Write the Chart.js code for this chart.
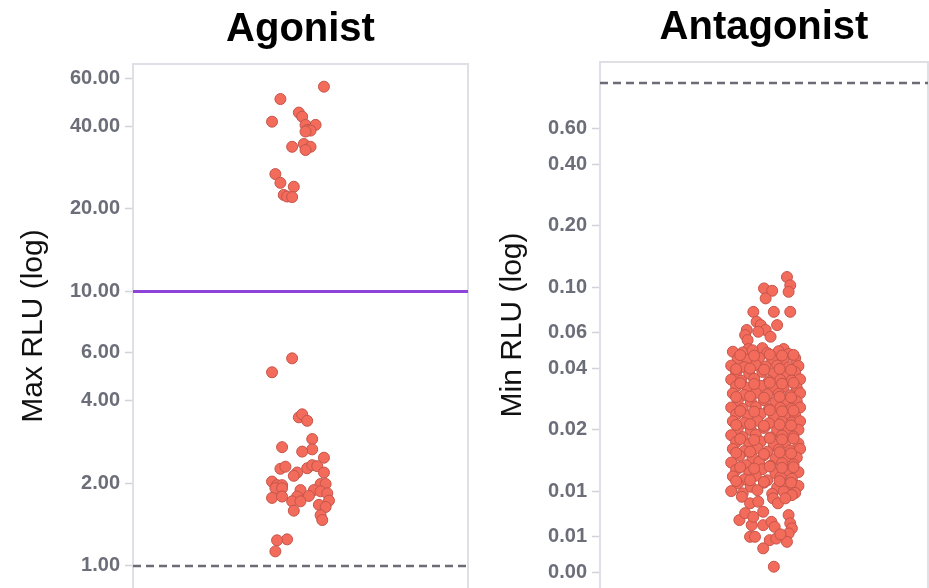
<!DOCTYPE html>
<html lang="en">
<head>
<meta charset="UTF-8">
<title>Agonist / Antagonist RLU</title>
<script src="https://cdn.jsdelivr.net/npm/chart.js"></script>
<style>
  body { margin: 0; background: #fff; overflow: hidden; }
  #left { position: absolute; left: 0; top: 0; width: 475px; height: 588px; }
  #right { position: absolute; left: 480px; top: 0; width: 449px; height: 588px; }
</style>
</head>
<body>
<div id="left"><canvas id="agonistChart"></canvas></div>
<div id="right"><canvas id="antagonistChart"></canvas></div>

<script>
  // agonist wells: horizontal jitter (-1..1) and max RLU
  const agonistJitter = [
    0.14, -0.12, -0.17, -0.01, 0.01, 0.03, 0.09, 0.04, 0.06, 0.03,
    -0.05, 0.02, 0.06, 0.03, -0.15, -0.12, -0.04, -0.10, -0.08, -0.05,
    -0.05, -0.17, -0.01, 0.01, 0.04, 0.07, 0.07, -0.11, 0.01, 0.14,
    -0.12, -0.09, 0.04, 0.07, 0.10, -0.02, -0.04, 0.14, -0.17, -0.14,
    -0.11, -0.15, -0.11, 0.12, 0.15, 0.00, 0.08, 0.12, -0.17, -0.11,
    -0.02, 0.05, 0.16, -0.05, 0.00, 0.17, 0.11, 0.15, -0.04, 0.12,
    0.13, -0.08, -0.14, -0.15
  ];
  const agonistRlu = [
    55.8, 50.3, 41.6, 44.9, 43.4, 40.5, 40.5, 38.8, 38.6, 38.3,
    33.7, 34.5, 33.7, 32.8, 26.8, 24.9, 24.1, 22.5, 22.2, 22.1,
    5.71, 5.08, 3.48, 3.57, 3.38, 2.90, 2.66, 2.71, 2.61, 2.48,
    2.26, 2.30, 2.27, 2.33, 2.31, 2.19, 2.13, 2.19, 2.03, 1.97,
    1.97, 1.92, 1.92, 1.99, 1.99, 1.89, 1.89, 1.87, 1.77, 1.79,
    1.79, 1.80, 1.84, 1.72, 1.72, 1.73, 1.67, 1.64, 1.59, 1.53,
    1.47, 1.25, 1.24, 1.13
  ];
  const agonistTicks = [1, 2, 4, 6, 10, 20, 40, 60];
  const agonistCutoff = 10;
  const agonistBaseline = 1;

  // antagonist wells: horizontal jitter (-1..1) and min RLU
  const antagonistJitter = [
    0.14, 0.16, 0.15, 0.00, 0.05, 0.01, -0.065, 0.06, 0.16, -0.045,
    -0.02, 0.01, 0.08, -0.105, -0.115, -0.10, 0.04, -0.035, -0.01, -0.095, 0.12,
    -0.19, -0.13, -0.07, 0.02, 0.09, 0.15,
    -0.16, -0.10, -0.03, 0.05, 0.12, 0.19,
    -0.20, -0.12, -0.05, 0.01, 0.08, 0.15, 0.21,
    -0.17, -0.09, -0.01, 0.06, 0.13, 0.19,
    -0.20, -0.14, -0.06, 0.03, 0.10, 0.17, 0.22,
    -0.17, -0.10, -0.02, 0.05, 0.12, 0.20,
    -0.19, -0.12, -0.05, 0.02, 0.09, 0.16, 0.22,
    -0.16, -0.08, 0.00, 0.07, 0.14, 0.20,
    -0.20, -0.13, -0.05, 0.03, 0.10, 0.17, 0.22,
    -0.17, -0.10, -0.02, 0.06, 0.13, 0.19,
    -0.19, -0.12, -0.04, 0.03, 0.11, 0.17, 0.22,
    -0.16, -0.08, 0.00, 0.08, 0.15, 0.21,
    -0.20, -0.13, -0.05, 0.04, 0.11, 0.18,
    -0.17, -0.09, -0.02, 0.06, 0.13, 0.21,
    -0.19, -0.12, -0.04, 0.02, 0.09, 0.16, 0.22,
    -0.15, -0.07, 0.00, 0.07, 0.14, 0.20,
    -0.20, -0.11, -0.03, 0.04, 0.11, 0.18,
    -0.17, -0.09, -0.01, 0.07, 0.14, 0.21,
    -0.19, -0.12, -0.05, 0.02, 0.10, 0.17,
    -0.16, -0.08, 0.00, 0.08, 0.15, 0.21,
    -0.20, -0.13, -0.04, 0.05, 0.12, 0.19,
    -0.145, -0.06, 0.035, 0.11, 0.18,
    -0.17, -0.085, 0.00, 0.095, 0.165,
    -0.145, -0.06, 0.035, 0.11, 0.18,
    -0.17, -0.085, 0.00, 0.095, 0.165,
    -0.145, -0.06, 0.035, 0.11, 0.18,
    -0.17, -0.085, 0.00, 0.095, 0.165,
    -0.145, -0.06, 0.035, 0.11, 0.18,
    -0.17, -0.085, 0.00, 0.095, 0.165,
    -0.145, -0.06, 0.035, 0.11, 0.18,
    -0.17, -0.085, 0.00, 0.095, 0.165,
    -0.135, -0.085, -0.035, 0.055, 0.085, 0.17, 0.13, -0.15, -0.115, -0.075,
    -0.065, -0.005, -0.005, 0.045, 0.065, 0.15, 0.16, 0.17, 0.15, 0.14,
    -0.085, -0.055, 0.035, 0.075, 0.10, -0.005, 0.06
  ];
  const antagonistRlu = [
    0.112, 0.102, 0.0948, 0.0985, 0.0959, 0.088, 0.0756, 0.0756, 0.0756, 0.0676,
    0.0651, 0.0616, 0.0651, 0.0616, 0.0582, 0.055, 0.0571, 0.0604, 0.0502, 0.0497, 0.0497,
    0.0482, 0.0478, 0.0490, 0.0475, 0.0485, 0.0470,
    0.0446, 0.0440, 0.0450, 0.0442, 0.0438, 0.0448,
    0.0412, 0.0405, 0.0415, 0.0408, 0.0413, 0.0404, 0.0410,
    0.0381, 0.0376, 0.0384, 0.0378, 0.0374, 0.0383,
    0.0352, 0.0348, 0.0355, 0.0346, 0.0351, 0.0349, 0.0353,
    0.0326, 0.0321, 0.0328, 0.0322, 0.0325, 0.0320,
    0.0301, 0.0296, 0.0303, 0.0298, 0.0300, 0.0295, 0.0302,
    0.0278, 0.0274, 0.0279, 0.0273, 0.0277, 0.0275,
    0.0257, 0.0253, 0.0258, 0.0252, 0.0256, 0.0254, 0.0257,
    0.0238, 0.0234, 0.0239, 0.0233, 0.0237, 0.0235,
    0.0220, 0.0216, 0.0221, 0.0215, 0.0219, 0.0217, 0.0220,
    0.0203, 0.0199, 0.0204, 0.0198, 0.0202, 0.0200,
    0.0188, 0.0184, 0.0189, 0.0183, 0.0187, 0.0185,
    0.0174, 0.0170, 0.0175, 0.0169, 0.0173, 0.0171,
    0.0161, 0.0157, 0.0162, 0.0156, 0.0160, 0.0158, 0.0161,
    0.0149, 0.0145, 0.0150, 0.0144, 0.0148, 0.0146,
    0.0138, 0.0134, 0.0139, 0.0133, 0.0137, 0.0135,
    0.0127, 0.0123, 0.0128, 0.0122, 0.0126, 0.0124,
    0.0118, 0.0114, 0.0119, 0.0113, 0.0117, 0.0115,
    0.0109, 0.0105, 0.0110, 0.0104, 0.0108, 0.0106,
    0.0100, 0.00975, 0.0101, 0.00970, 0.00995, 0.00980,
    0.0464, 0.0461, 0.0467, 0.0462, 0.0465,
    0.0396, 0.0399, 0.0394, 0.0397, 0.0393,
    0.0338, 0.0335, 0.0340, 0.0336, 0.0339,
    0.0289, 0.0291, 0.0287, 0.0290, 0.0288,
    0.0247, 0.0245, 0.0249, 0.0246, 0.0248,
    0.0211, 0.0213, 0.0209, 0.0212, 0.0210,
    0.0180, 0.0178, 0.0182, 0.0179, 0.0181,
    0.0154, 0.0156, 0.0152, 0.0155, 0.0153,
    0.0131, 0.0129, 0.0132, 0.0130, 0.0131,
    0.0112, 0.0113, 0.0111, 0.0112, 0.0110,
    0.00938, 0.00871, 0.00887, 0.00921, 0.00871, 0.00956, 0.00921, 0.00721, 0.00780, 0.00681,
    0.00748, 0.00792, 0.00681, 0.00707, 0.00668, 0.00763, 0.00695, 0.00657, 0.00620, 0.00564,
    0.00597, 0.00597, 0.00575, 0.00585, 0.00614, 0.00524, 0.00426
  ];
  const antagonistTicks = [0.004, 0.006, 0.01, 0.02, 0.04, 0.06, 0.1, 0.2, 0.4, 0.6];
  const antagonistBaseline = 1;

  const FONT = '"Liberation Sans", Arial, sans-serif';

  // light frame round the plot area (top, left, right)
  const framePlugin = {
    id: 'frame',
    beforeDatasetsDraw(chart) {
      const { ctx, chartArea: a } = chart;
      ctx.save();
      ctx.strokeStyle = '#dfdfe6';
      ctx.lineWidth = 2;
      ctx.beginPath();
      ctx.moveTo(a.left, a.bottom + 2);
      ctx.lineTo(a.left, a.top);
      ctx.lineTo(a.right, a.top);
      ctx.lineTo(a.right, a.bottom + 2);
      ctx.stroke();
      ctx.restore();
    }
  };

  function hLine(value, color, width, dash) {
    return {
      type: 'line',
      data: [{ x: -1, y: value }, { x: 1, y: value }],
      borderColor: color,
      borderWidth: width,
      borderDash: dash,
      pointRadius: 0,
      order: 2
    };
  }

  function makeChart(id, opts) {
    const points = opts.jitter.map((j, i) => ({ x: j, y: opts.values[i] }));
    return new Chart(document.getElementById(id), {
      type: 'scatter',
      data: {
        datasets: [{
          data: points,
          backgroundColor: '#f26b5b',
          borderColor: '#c5554a',
          borderWidth: 1,
          pointRadius: 5.5,
          order: 1
        }].concat(opts.lines)
      },
      options: {
        responsive: true,
        maintainAspectRatio: false,
        animation: false,
        layout: {
          autoPadding: false,
          padding: { left: 0, right: opts.padRight, top: 0, bottom: 0 }
        },
        plugins: {
          legend: { display: false },
          tooltip: { enabled: false },
          title: {
            display: true,
            text: opts.title,
            fullSize: false,
            color: '#000',
            font: { family: FONT, size: 40, weight: 'bold' },
            padding: { top: opts.titleTop, bottom: 10 }
          }
        },
        scales: {
          x: { type: 'linear', min: -1, max: 1, display: false },
          y: {
            type: 'logarithmic',
            min: opts.min,
            max: opts.max,
            afterFit: s => {
              s.width = opts.axisWidth;
              // plot runs off the bottom of the picture
              s.paddingTop = 0;
              s.paddingBottom = 0;
            },
            afterBuildTicks: s => { s.ticks = opts.ticks.map(v => ({ value: v })); },
            ticks: {
              autoSkip: false,
              padding: 5,
              color: '#6b6d78',
              font: { family: FONT, size: 20, weight: 'bold' },
              callback: v => Number(v).toFixed(2)
            },
            grid: { drawOnChartArea: false, tickLength: 8, tickColor: '#d2d3da', tickWidth: 1.5 },
            border: { display: false },
            title: {
              display: true,
              text: opts.yTitle,
              color: '#111',
              font: { family: FONT, size: 30 },
              padding: { top: opts.yTitlePad, bottom: 0 }
            }
          }
        }
      },
      plugins: [framePlugin]
    });
  }

  makeChart('agonistChart', {
    title: 'Agonist',
    yTitle: 'Max RLU (log)',
    jitter: agonistJitter,
    values: agonistRlu,
    ticks: agonistTicks,
    min: 0.831,
    max: 67.5,
    axisWidth: 133,
    padRight: 7,
    titleTop: 6,
    yTitlePad: 16,
    lines: [
      hLine(agonistCutoff, '#8e44d8', 3, []),
      hLine(agonistBaseline, '#6b6c75', 2.5, [8, 5])
    ]
  });

  makeChart('antagonistChart', {
    title: 'Antagonist',
    yTitle: 'Min RLU (log)',
    jitter: antagonistJitter,
    values: antagonistRlu,
    ticks: antagonistTicks,
    min: 0.00335,
    max: 1.268,
    axisWidth: 120,
    padRight: 1,
    titleTop: 4,
    yTitlePad: 15,
    lines: [
      hLine(antagonistBaseline, '#6b6c75', 2.5, [8, 5])
    ]
  });
</script>
</body>
</html>
